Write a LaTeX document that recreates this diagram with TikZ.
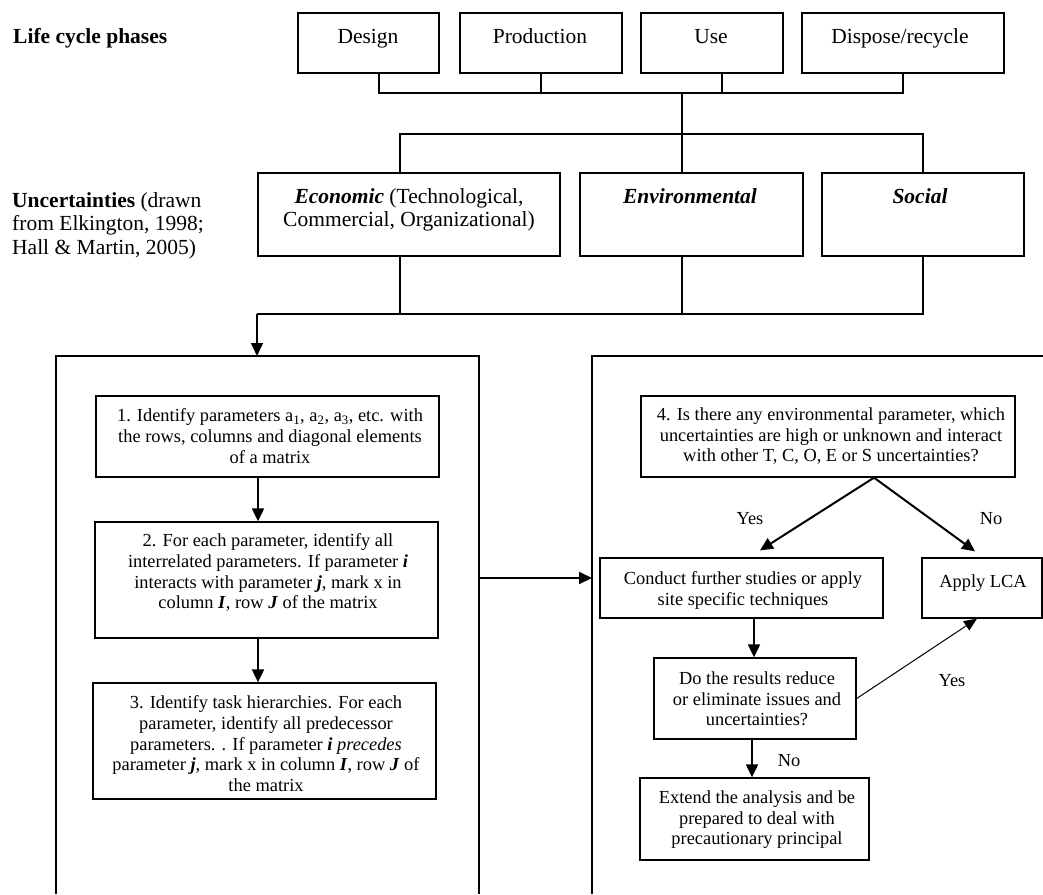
\documentclass[tikz,border=0pt]{standalone}
\usepackage{fontspec}
\setmainfont{Liberation Serif}
\usetikzlibrary{arrows.meta}
\begin{document}
\begin{tikzpicture}[x=1pt,y=-1pt,
  boxsty/.style={draw, line width=1.3pt, inner sep=0pt},
  toptxt/.style={font=\fontsize{21.5}{23.5}\selectfont, inner sep=0pt},
  steptxt/.style={font=\fontsize{18.4}{20.8}\selectfont, inner sep=0pt, align=center},
  bus/.style={line width=1.3pt},
  arr/.style={line width=2pt, -{Triangle[length=13pt,width=12pt]}},
  thinarr/.style={line width=1pt, -{Triangle[length=13pt,width=11pt]}},
  panel/.style={line width=1.4pt}]

\fill[white] (0,0) rectangle (1043,894);
\useasboundingbox (0,0) rectangle (1043,894);

% ---------- life cycle phases ----------
\node[toptxt, anchor=base west] (lcp) at (13,43) {\textbf{Life cycle phases}};
\node[boxsty, minimum width=141pt, minimum height=60pt] (design) at (368.5,43) {};
\node[boxsty, minimum width=162pt, minimum height=60pt] (production) at (541,43) {};
\node[boxsty, minimum width=142pt, minimum height=60pt] (use) at (712,43) {};
\node[boxsty, minimum width=202pt, minimum height=60pt] (dispose) at (903,43) {};
\node[toptxt, anchor=base] (design-t) at (368,43) {Design};
\node[toptxt, anchor=base] (production-t) at (540,43) {Production};
\node[toptxt, anchor=base] (use-t) at (711,43) {Use};
\node[toptxt, anchor=base] (dispose-t) at (900,43) {Dispose/recycle};

\coordinate (j1) at (682,93);
\coordinate (j2) at (682,134);
\draw[bus] ([xshift=10.5pt]design.south) |- (j1);
\draw[bus] (production.south) |- (j1);
\draw[bus] ([xshift=10pt]use.south) |- (j1);
\draw[bus] (dispose.south) |- (j1);
\draw[bus] (j1) -- (j2);

% ---------- uncertainties ----------
\node[toptxt, anchor=north west, align=left] (unc) at (12,192)
  {\textbf{Uncertainties} (drawn\\from Elkington, 1998;\\Hall \& Martin, 2005)};
\node[boxsty, minimum width=302pt, minimum height=83pt] (econ) at (409,214.5) {};
\node[boxsty, minimum width=223pt, minimum height=83pt] (env) at (691.5,214.5) {};
\node[boxsty, minimum width=202pt, minimum height=83pt] (social) at (923,214.5) {};
\node[toptxt, anchor=north, align=center] (econ-t) at (409,188)
  {\textbf{\textit{Economic}} (Technological,\\Commercial, Organizational)};
\node[toptxt, anchor=base] (env-t) at (690,203) {\textbf{\textit{Environmental}}};
\node[toptxt, anchor=base] (social-t) at (920,203) {\textbf{\textit{Social}}};

\draw[bus] ([xshift=-9pt]econ.north) |- (j2);
\draw[bus] ([xshift=-9.5pt]env.north) |- (j2);
\draw[bus] (social.north) |- (j2);

\coordinate (j3) at (257,314);
\coordinate (lptop) at (257,356);
\draw[bus] ([xshift=-9pt]econ.south) |- (j3);
\draw[bus] ([xshift=-9.5pt]env.south) |- (j3);
\draw[bus] (social.south) |- (j3);
\draw[bus, -{Triangle[length=13pt,width=12pt]}] (j3) -- (lptop);

% ---------- panels ----------
\draw[panel] (56,894) -- (56,356) -- (479,356) -- (479,894);
\draw[panel] (592,894) -- (592,356) -- (1043,356);
\coordinate (lpr) at (479,578);
\coordinate (rpl) at (592,578);
\draw[arr] (lpr) -- (rpl);

% ---------- left steps ----------
\node[boxsty, minimum width=343pt, minimum height=81pt] (s1) at (267.5,436.5) {};
\node[boxsty, minimum width=343pt, minimum height=116pt] (s2) at (266.5,580) {};
\node[boxsty, minimum width=343pt, minimum height=116pt] (s3) at (264.5,741) {};
\node[steptxt, anchor=north] (s1-t) at (270,408.4)
  {1. Identify parameters a\textsubscript{1}, a\textsubscript{2}, a\textsubscript{3}, etc. with\\the rows, columns and diagonal elements\\of a matrix};
\node[steptxt, anchor=north] (s2-t) at (268,533.4)
  {2. For each parameter, identify all\\interrelated parameters. If parameter \textbf{\textit{i}}\\interacts with parameter \textbf{\textit{j}}, mark x in\\column \textbf{\textit{I}}, row \textbf{\textit{J}} of the matrix};
\node[steptxt, anchor=north] (s3-t) at (266,695.4)
  {3. Identify task hierarchies. For each\\parameter, identify all predecessor\\parameters. . If parameter \textbf{\textit{i}} \textit{precedes}\\parameter \textbf{\textit{j}}, mark x in column \textbf{\textit{I}}, row \textbf{\textit{J}} of\\the matrix};
\coordinate (ax) at (258,0);
\draw[arr] (s1.south -| ax) -- (s2.north -| ax);
\draw[arr] (s2.south -| ax) -- (s3.north -| ax);

% ---------- right steps ----------
\node[boxsty, minimum width=374pt, minimum height=81pt] (s4) at (828,436.5) {};
\node[steptxt, anchor=north] (s4-t) at (831,407.4)
  {4. Is there any environmental parameter, which\\uncertainties are high or unknown and interact\\with other T, C, O, E or S uncertainties?};
\node[boxsty, minimum width=283pt, minimum height=60pt] (conduct) at (741.5,588) {};
\node[boxsty, minimum width=120pt, minimum height=60pt] (lca) at (982,588) {};
\node[boxsty, minimum width=202pt, minimum height=81pt] (do) at (755,698.5) {};
\node[boxsty, minimum width=229pt, minimum height=82pt] (extend) at (754.5,819) {};
\node[steptxt, anchor=north] (conduct-t) at (743,571.4)
  {Conduct further studies or apply\\site specific techniques};
\node[steptxt, anchor=base] (lca-t) at (983,587) {Apply LCA};
\node[steptxt, anchor=north] (do-t) at (757,671.4)
  {Do the results reduce\\or eliminate issues and\\uncertainties?};
\node[steptxt, anchor=north] (extend-t) at (757,790.4)
  {Extend the analysis and be\\prepared to deal with\\precautionary principal};

\draw[arr] ([xshift=46pt]s4.south) -- ([xshift=18.5pt,yshift=7pt]conduct.north);
\draw[arr] ([xshift=46pt]s4.south) -- ([xshift=-7pt,yshift=6pt]lca.north);
\coordinate (cx) at (754,0);
\draw[arr] (conduct.south -| cx) -- (do.north -| cx);
\draw[thinarr] (do.east) -- ([xshift=-5pt]lca.south);
\coordinate (dx) at (752,0);
\draw[arr] (do.south -| dx) -- (extend.north -| dx);

\node[steptxt, anchor=base] (yes1) at (750,524) {Yes};
\node[steptxt, anchor=base] (no1) at (991,524) {No};
\node[steptxt, anchor=base] (yes2) at (952,686) {Yes};
\node[steptxt, anchor=base] (no2) at (789,766) {No};
\end{tikzpicture}
\end{document}
